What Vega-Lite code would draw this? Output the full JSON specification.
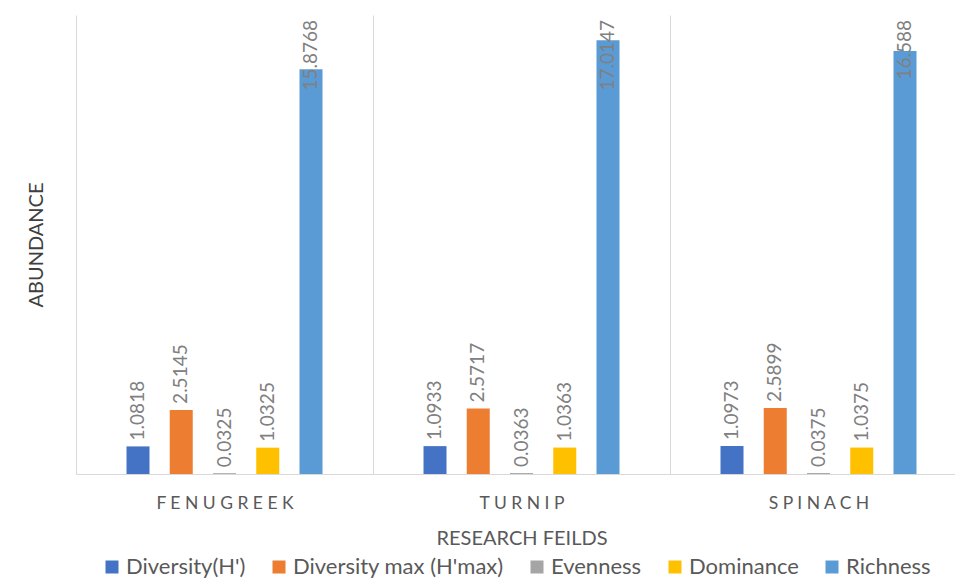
{
  "$schema": "https://vega.github.io/schema/vega-lite/v6.json",
  "width": 891,
  "height": 459,
  "autosize": "none",
  "padding": {"left": 76, "top": 15, "right": 0, "bottom": 111},
  "background": "white",
  "config": {"font": "Lato", "view": {"stroke": null}},
  "data": {
    "values": [
      {"field": "FENUGREEK", "series": "Diversity(H')", "value": 1.0818},
      {"field": "FENUGREEK", "series": "Diversity max (H'max)", "value": 2.5145},
      {"field": "FENUGREEK", "series": "Evenness", "value": 0.0325},
      {"field": "FENUGREEK", "series": "Dominance", "value": 1.0325},
      {"field": "FENUGREEK", "series": "Richness", "value": 15.8768},
      {"field": "TURNIP", "series": "Diversity(H')", "value": 1.0933},
      {"field": "TURNIP", "series": "Diversity max (H'max)", "value": 2.5717},
      {"field": "TURNIP", "series": "Evenness", "value": 0.0363},
      {"field": "TURNIP", "series": "Dominance", "value": 1.0363},
      {"field": "TURNIP", "series": "Richness", "value": 17.0147},
      {"field": "SPINACH", "series": "Diversity(H')", "value": 1.0973},
      {"field": "SPINACH", "series": "Diversity max (H'max)", "value": 2.5899},
      {"field": "SPINACH", "series": "Evenness", "value": 0.0375},
      {"field": "SPINACH", "series": "Dominance", "value": 1.0375},
      {"field": "SPINACH", "series": "Richness", "value": 16.588}
    ]
  },
  "encoding": {
    "x": {
      "field": "field",
      "type": "nominal",
      "sort": ["FENUGREEK", "TURNIP", "SPINACH"],
      "scale": {"paddingInner": 0, "paddingOuter": 0},
      "axis": {
        "title": "RESEARCH FEILDS",
        "labelAngle": 0,
        "tickBand": "extent",
        "grid": true,
        "gridColor": "#d9d9d9",
        "ticks": false,
        "domainColor": "#d9d9d9",
        "labelExpr": "join(split(datum.label, ''), ' ')",
        "labelFontSize": 17.5,
        "labelColor": "#595959",
        "labelPadding": 20,
        "titleFontSize": 20,
        "titleColor": "#595959",
        "titleFontWeight": "normal",
        "titlePadding": 17
      }
    },
    "xOffset": {
      "field": "series",
      "type": "nominal",
      "scale": {
        "domain": ["Diversity(H')", "Diversity max (H'max)", "Evenness", "Dominance", "Richness"],
        "range": [50.5, 246.5],
        "paddingInner": 0.468,
        "paddingOuter": 0
      }
    }
  },
  "layer": [
    {
      "mark": {"type": "bar"},
      "encoding": {
        "y": {
          "field": "value",
          "type": "quantitative",
          "scale": {"domain": [0, 18], "nice": false},
          "axis": {
            "title": "ABUNDANCE",
            "labels": false,
            "ticks": false,
            "domain": false,
            "grid": false,
            "titleFontSize": 20,
            "titleFontWeight": "normal",
            "titleColor": "#404040",
            "titlePadding": 30
          }
        },
        "color": {
          "field": "series",
          "type": "nominal",
          "scale": {
            "domain": ["Diversity(H')", "Diversity max (H'max)", "Evenness", "Dominance", "Richness"],
            "range": ["#4472C4", "#ED7D31", "#A5A5A5", "#FFC000", "#5B9BD5"]
          },
          "legend": {
            "orient": "none",
            "legendX": 25,
            "legendY": 541,
            "direction": "horizontal",
            "title": null,
            "symbolType": "square",
            "symbolSize": 169,
            "symbolStrokeWidth": 0,
            "labelFontSize": 22,
            "labelLimit": 0,
            "labelColor": "#595959",
            "labelOffset": 3,
            "columnPadding": 22
          }
        }
      }
    },
    {
      "transform": [{"filter": "datum.series !== 'Richness'"}],
      "mark": {"type": "text", "angle": 270, "align": "left", "baseline": "middle", "dx": 6, "fontSize": 19, "color": "#808080"},
      "encoding": {
        "y": {"field": "value", "type": "quantitative"},
        "text": {"field": "value", "type": "quantitative", "format": ".4~f"}
      }
    },
    {
      "transform": [{"filter": "datum.series === 'Richness'"}],
      "mark": {"type": "text", "angle": 270, "align": "right", "baseline": "middle", "dx": -5, "fontSize": 19, "color": "#808080"},
      "encoding": {
        "y": {"datum": 18, "type": "quantitative"},
        "text": {"field": "value", "type": "quantitative", "format": ".4~f"}
      }
    }
  ]
}
